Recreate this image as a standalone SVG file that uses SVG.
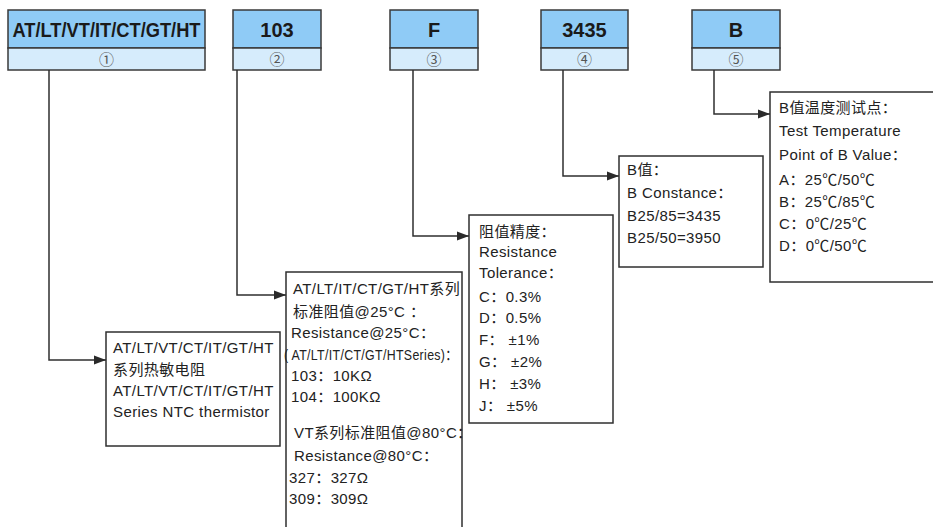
<svg xmlns="http://www.w3.org/2000/svg" width="933" height="527" viewBox="0 0 933 527">
<defs>
<marker id="arr" viewBox="0 0 12 10" refX="12" refY="5" markerWidth="12" markerHeight="10" markerUnits="userSpaceOnUse" orient="auto">
<path d="M0,0.5 L12,5 L0,9.5 z" fill="#2a2a2a"/>
</marker>
<style>
.top{fill:#8FCBF6;stroke:#3a3a3a;stroke-width:1.5}
.sub{fill:#D6ECFC;stroke:#3a3a3a;stroke-width:1.5}
.code{font-family:"Liberation Sans",Arial,sans-serif;font-weight:bold;font-size:20px;fill:#1a1a1a;text-anchor:middle}
.num{font-family:"Noto Sans CJK SC","DejaVu Sans",sans-serif;font-size:15px;fill:#555;text-anchor:middle}
.box{fill:#fff;stroke:#2f2f2f;stroke-width:1.5}
.t{font-family:"Liberation Sans","Noto Sans CJK SC",sans-serif;font-size:15px;fill:#222;letter-spacing:0.4px}
.conn{fill:none;stroke:#2f2f2f;stroke-width:1.5;marker-end:url(#arr)}
</style>
</defs>
<rect width="933" height="527" fill="#fff"/>

<g id="code1">
<rect class="top" x="8" y="10" width="197" height="38"/>
<rect class="sub" x="8" y="48" width="197" height="22"/>
<text class="code" x="106.5" y="37" textLength="188" lengthAdjust="spacingAndGlyphs">AT/LT/VT/IT/CT/GT/HT</text>
<text class="num" x="106.5" y="65">①</text>
</g>
<g id="code2">
<rect class="top" x="233" y="10" width="88" height="38"/>
<rect class="sub" x="233" y="48" width="88" height="22"/>
<text class="code" x="277" y="37">103</text>
<text class="num" x="277" y="65">②</text>
</g>
<g id="code3">
<rect class="top" x="390" y="10" width="88" height="38"/>
<rect class="sub" x="390" y="48" width="88" height="22"/>
<text class="code" x="434" y="37">F</text>
<text class="num" x="434" y="65">③</text>
</g>
<g id="code4">
<rect class="top" x="541" y="10" width="87" height="38"/>
<rect class="sub" x="541" y="48" width="87" height="22"/>
<text class="code" x="584.5" y="37">3435</text>
<text class="num" x="584.5" y="65">④</text>
</g>
<g id="code5">
<rect class="top" x="692" y="10" width="88" height="38"/>
<rect class="sub" x="692" y="48" width="88" height="22"/>
<text class="code" x="736" y="37">B</text>
<text class="num" x="736" y="65">⑤</text>
</g>

<g id="connectors">
<path class="conn" d="M49,70 V360 H106"/>
<path class="conn" d="M237,70 V295 H286"/>
<path class="conn" d="M413,70 V236 H469"/>
<path class="conn" d="M563,70 V176 H619"/>
<path class="conn" d="M714,70 V114 H770"/>
</g>

<g id="desc1">
<rect class="box" x="106" y="332" width="174" height="114"/>
<text class="t" x="113" y="353">AT/LT/VT/CT/IT/GT/HT</text>
<text class="t" x="113" y="375">系列热敏电阻</text>
<text class="t" x="113" y="396">AT/LT/VT/CT/IT/GT/HT</text>
<text class="t" x="113" y="417">Series NTC thermistor</text>
</g>

<g id="desc2">
<rect class="box" x="286" y="272" width="176" height="270"/>
<text class="t" x="293" y="294">AT/LT/IT/CT/GT/HT系列</text>
<text class="t" x="293" y="317">标准阻值@25°C ：</text>
<text class="t" x="291" y="338">Resistance@25°C：</text>
<text class="t" x="284" y="360" textLength="174" lengthAdjust="spacingAndGlyphs">( AT/LT/IT/CT/GT/HTSeries)：</text>
<text class="t" x="291" y="381">103：10KΩ</text>
<text class="t" x="291" y="402">104：100KΩ</text>
<text class="t" x="294" y="438">VT系列标准阻值@80°C：</text>
<text class="t" x="294" y="461">Resistance@80°C：</text>
<text class="t" x="289" y="483">327：327Ω</text>
<text class="t" x="289" y="504">309：309Ω</text>
</g>

<g id="desc3">
<rect class="box" x="469" y="215" width="144" height="208"/>
<text class="t" x="479" y="237">阻值精度：</text>
<text class="t" x="479" y="257">Resistance</text>
<text class="t" x="479" y="278">Tolerance：</text>
<text class="t" x="479" y="302">C：0.3%</text>
<text class="t" x="479" y="323">D：0.5%</text>
<text class="t" x="479" y="345">F： ±1%</text>
<text class="t" x="479" y="367">G： ±2%</text>
<text class="t" x="479" y="389">H： ±3%</text>
<text class="t" x="479" y="411">J： ±5%</text>
</g>

<g id="desc4">
<rect class="box" x="619" y="156" width="144" height="111"/>
<text class="t" x="627" y="175">B值：</text>
<text class="t" x="627" y="198">B Constance：</text>
<text class="t" x="627" y="221">B25/85=3435</text>
<text class="t" x="627" y="243">B25/50=3950</text>
</g>

<g id="desc5">
<rect class="box" x="770" y="92" width="170" height="190"/>
<text class="t" x="779" y="113">B值温度测试点：</text>
<text class="t" x="779" y="136">Test Temperature</text>
<text class="t" x="779" y="160">Point of B Value：</text>
<text class="t" x="779" y="185">A：25℃/50℃</text>
<text class="t" x="779" y="207">B：25℃/85℃</text>
<text class="t" x="779" y="229">C：0℃/25℃</text>
<text class="t" x="779" y="251">D：0℃/50℃</text>
</g>
</svg>
